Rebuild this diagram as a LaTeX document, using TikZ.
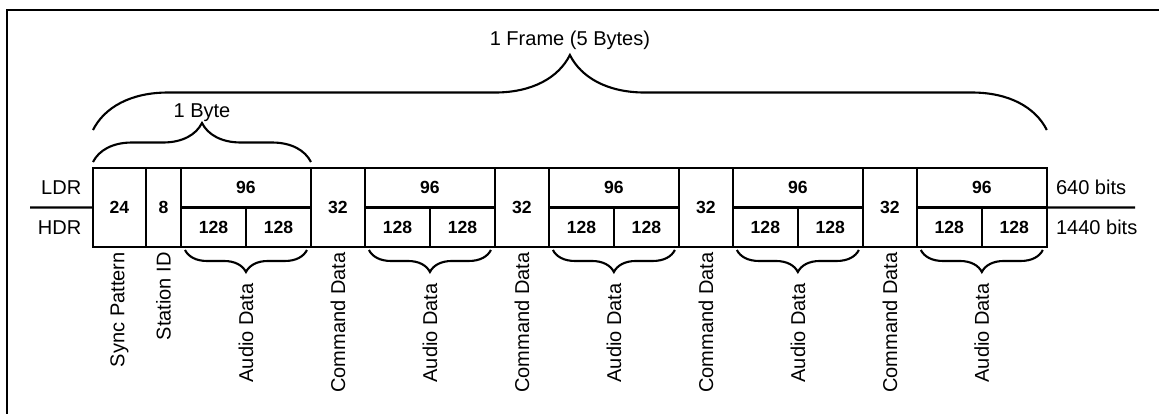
\documentclass[tikz,border=0pt]{standalone}
\usepackage{fontspec}
\setmainfont{Liberation Sans}
\usetikzlibrary{positioning,decorations.pathreplacing}
\tikzset{
  cellfull/.style={
    draw, line width=1.4pt, outer sep=0pt, inner sep=0pt,
    minimum height=1.58cm, font=\bfseries
  },
  cellhalf/.style={
    draw, line width=1.4pt, outer sep=0pt, inner sep=0pt,
    minimum height=0.79cm, font=\bfseries
  },
  vlabel/.style={rotate=90, anchor=east, inner sep=0pt},
  curly/.style={decorate, decoration={brace, amplitude=#1}, line width=1.2pt},
  curlydown/.style={decorate, decoration={brace, amplitude=#1, mirror}, line width=1.2pt},
  hline/.style={line width=1.4pt}
}

\begin{document}
\begin{tikzpicture}[x=0.02cm,y=0.02cm,font=\fontsize{11.4}{13.5}\selectfont]
    \useasboundingbox (0,0) rectangle (1159,413);
    \draw[line width=1.1pt] (7,-5) -- (7,403) -- (1165,403);
    % one frame
    \node[cellfull,minimum width=1.06cm,anchor=north west] (sync) at (93,245) {24};
    \node[cellfull,minimum width=0.70cm,right=0pt of sync] (sid) {8};
    \node[cellhalf,minimum width=2.60cm,anchor=north west] (a1top) at (sid.north east) {96};
    \node[cellhalf,minimum width=1.30cm,anchor=north west] (a1l) at (a1top.south west) {128};
    \node[cellhalf,minimum width=1.30cm,right=0pt of a1l] (a1r) {128};
    \node[cellfull,minimum width=1.08cm,anchor=north west] (c1) at (a1top.north east) {32};
    \node[cellhalf,minimum width=2.60cm,anchor=north west] (a2top) at (c1.north east) {96};
    \node[cellhalf,minimum width=1.30cm,anchor=north west] (a2l) at (a2top.south west) {128};
    \node[cellhalf,minimum width=1.30cm,right=0pt of a2l] (a2r) {128};
    \node[cellfull,minimum width=1.08cm,anchor=north west] (c2) at (a2top.north east) {32};
    \node[cellhalf,minimum width=2.60cm,anchor=north west] (a3top) at (c2.north east) {96};
    \node[cellhalf,minimum width=1.30cm,anchor=north west] (a3l) at (a3top.south west) {128};
    \node[cellhalf,minimum width=1.30cm,right=0pt of a3l] (a3r) {128};
    \node[cellfull,minimum width=1.08cm,anchor=north west] (c3) at (a3top.north east) {32};
    \node[cellhalf,minimum width=2.60cm,anchor=north west] (a4top) at (c3.north east) {96};
    \node[cellhalf,minimum width=1.30cm,anchor=north west] (a4l) at (a4top.south west) {128};
    \node[cellhalf,minimum width=1.30cm,right=0pt of a4l] (a4r) {128};
    \node[cellfull,minimum width=1.08cm,anchor=north west] (c4) at (a4top.north east) {32};
    \node[cellhalf,minimum width=2.60cm,anchor=north west] (a5top) at (c4.north east) {96};
    \node[cellhalf,minimum width=1.30cm,anchor=north west] (a5l) at (a5top.south west) {128};
    \node[cellhalf,minimum width=1.30cm,right=0pt of a5l] (a5r) {128};
    % rates
    \coordinate (lfree) at (30,205.5);
    \coordinate (rfree) at (1135,205.5);
    \draw[hline] (lfree) -- (sync.west);
    \draw[hline] (a5top.south east) -- (rfree);
    \node[anchor=east,xshift=-0.11cm] (ldr) at (sync.west |- a1top.west) {LDR};
    \node[anchor=east,xshift=-0.11cm] (hdr) at (sync.west |- a1l.west) {HDR};
    \node[anchor=west,xshift=0.06cm] (lbits) at (a5top.east) {640 bits};
    \node[anchor=west,xshift=0.06cm] (hbits) at (a5r.east) {1440 bits};
    % field names
    \node[vlabel] (syncl) at ([yshift=-0.1cm]sync.south) {Sync Pattern};
    \node[vlabel] (sidl) at ([yshift=-0.1cm]sid.south) {Station ID};
    \node[vlabel] (c1l) at ([yshift=-0.1cm]c1.south) {Command Data};
    \node[vlabel] (c2l) at ([yshift=-0.1cm]c2.south) {Command Data};
    \node[vlabel] (c3l) at ([yshift=-0.1cm]c3.south) {Command Data};
    \node[vlabel] (c4l) at ([yshift=-0.1cm]c4.south) {Command Data};
    \draw[curlydown=0.44cm] ([xshift=0.08cm,yshift=-0.06cm]a1l.south west) -- ([xshift=-0.08cm,yshift=-0.06cm]a1r.south east);
    \draw[curlydown=0.44cm] ([xshift=0.08cm,yshift=-0.06cm]a2l.south west) -- ([xshift=-0.08cm,yshift=-0.06cm]a2r.south east);
    \draw[curlydown=0.44cm] ([xshift=0.08cm,yshift=-0.06cm]a3l.south west) -- ([xshift=-0.08cm,yshift=-0.06cm]a3r.south east);
    \draw[curlydown=0.44cm] ([xshift=0.08cm,yshift=-0.06cm]a4l.south west) -- ([xshift=-0.08cm,yshift=-0.06cm]a4r.south east);
    \draw[curlydown=0.44cm] ([xshift=0.08cm,yshift=-0.06cm]a5l.south west) -- ([xshift=-0.08cm,yshift=-0.06cm]a5r.south east);
    \node[vlabel] (a1d) at ([yshift=-0.72cm]a1l.south east) {Audio Data};
    \node[vlabel] (a2d) at ([yshift=-0.72cm]a2l.south east) {Audio Data};
    \node[vlabel] (a3d) at ([yshift=-0.72cm]a3l.south east) {Audio Data};
    \node[vlabel] (a4d) at ([yshift=-0.72cm]a4l.south east) {Audio Data};
    \node[vlabel] (a5d) at ([yshift=-0.72cm]a5l.south east) {Audio Data};
    % byte and frame
    \draw[curly=0.78cm] ([yshift=0.12cm]sync.north west) -- ([yshift=0.12cm]a1top.north east)
      node[midway,yshift=0.98cm] (bytel) {1 Byte};
    \draw[curly=1.5cm] ([yshift=0.76cm]sync.north west) -- ([yshift=0.76cm]a5top.north east)
      node[midway,yshift=1.8cm] (framel) {1 Frame (5 Bytes)};
  \end{tikzpicture}
\end{document}
